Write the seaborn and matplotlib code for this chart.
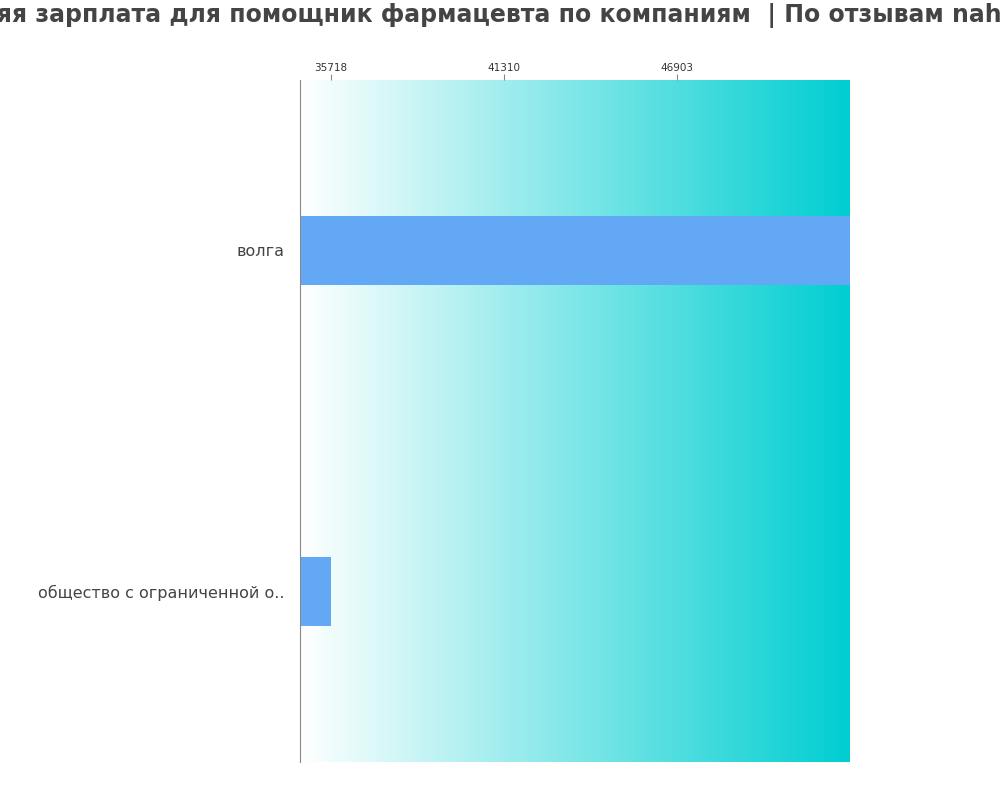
import matplotlib
matplotlib.use("Agg")
import matplotlib.pyplot as plt
import seaborn as sns
import numpy as np
import pandas as pd
from matplotlib.colors import LinearSegmentedColormap

companies = ["волга", "общество с ограниченной о.."]
salaries = [52496, 35718]
ticks = [35718, 41310, 46903]
xmin, xmax = 34716, 52496

sns.set_style("white")
plt.rcParams["font.family"] = ["DejaVu Sans"]
fig = plt.figure(figsize=(10, 8), dpi=100)
ax = fig.add_axes([0.30, 0.0475, 0.55, 0.8525])

df = pd.DataFrame({"company": companies, "salary": salaries})
cmap = LinearSegmentedColormap.from_list("g", ["#ffffff", "#00ced1"])
grad = np.linspace(0, 1, 256).reshape(1, -1)
ax.imshow(grad, aspect="auto", cmap=cmap, extent=[xmin, xmax, 1.5, -0.5], zorder=0)

sns.barplot(data=df, x="salary", y="company", color="#63a8f5", width=0.2,
            saturation=1, linewidth=0, ax=ax, zorder=2)
ax.set_xlim(xmin, xmax)
ax.set_ylim(1.5, -0.5)
ax.set_xlabel("")
ax.set_ylabel("")
ax.xaxis.tick_top()
ax.set_xticks(ticks)
ax.set_xticklabels([str(t) for t in ticks], fontsize=7.5, color="#333333")
ax.tick_params(axis="x", length=4, color="#888888", top=True, bottom=False, pad=1)
ax.tick_params(axis="y", labelsize=11.5, labelcolor="#444444", length=0, pad=11)
for s in ["top", "right", "bottom"]:
    ax.spines[s].set_visible(False)
ax.spines["left"].set_color("#888888")

fig.text(0.5, 0.98, "Средняя зарплата для помощник фармацевта по компаниям  | По отзывам nahimo.ru",
         ha="center", va="center", fontsize=17, fontweight="bold", color="#444444")
fig.savefig("out.png", dpi=100)
